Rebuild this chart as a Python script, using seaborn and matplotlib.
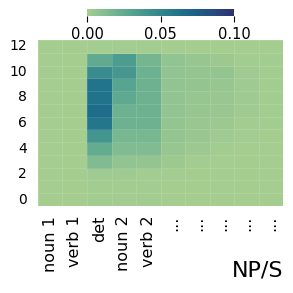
import numpy as np
import pandas as pd
import matplotlib
matplotlib.use("Agg")
import matplotlib.pyplot as plt
import seaborn as sns

# column labels and row layers (0 = bottom)
cols = ["noun 1", "verb 1", "det", "noun 2", "verb 2", "...", "...", "...", "...", "..."]
layers = list(range(13))

# attention values, one list per layer
vals = [
    [0.000, 0.000, 0.001, 0.001, 0.001, 0.000, 0.000, 0.000, 0.000, 0.000],  # 0
    [0.000, 0.000, 0.001, 0.001, 0.001, 0.000, 0.000, 0.000, 0.000, 0.000],  # 1
    [0.000, 0.000, 0.002, 0.002, 0.001, 0.001, 0.000, 0.000, 0.000, 0.000],  # 2
    [0.000, 0.000, 0.013, 0.007, 0.006, 0.003, 0.001, 0.000, 0.000, 0.000],  # 3
    [0.000, 0.000, 0.024, 0.013, 0.013, 0.005, 0.003, 0.001, 0.000, 0.000],  # 4
    [0.000, 0.000, 0.040, 0.016, 0.016, 0.006, 0.004, 0.002, 0.001, 0.000],  # 5
    [0.000, 0.000, 0.060, 0.020, 0.020, 0.006, 0.004, 0.003, 0.001, 0.001],  # 6
    [0.000, 0.000, 0.066, 0.020, 0.020, 0.007, 0.005, 0.004, 0.002, 0.001],  # 7
    [0.000, 0.000, 0.062, 0.026, 0.020, 0.007, 0.005, 0.004, 0.002, 0.001],  # 8
    [0.000, 0.000, 0.061, 0.030, 0.020, 0.007, 0.006, 0.005, 0.002, 0.001],  # 9
    [0.000, 0.000, 0.046, 0.038, 0.020, 0.007, 0.006, 0.006, 0.002, 0.001],  # 10
    [0.000, 0.000, 0.025, 0.035, 0.017, 0.007, 0.005, 0.003, 0.001, 0.001],  # 11
    [0.000, 0.000, 0.001, 0.001, 0.001, 0.000, 0.000, 0.000, 0.000, 0.000],  # 12
]

df = pd.DataFrame(vals, index=layers, columns=range(len(cols)))

fig = plt.figure(figsize=(2.93, 2.93), dpi=100)
ax = fig.add_axes([38 / 293, 1 - 206 / 293, 245 / 293, 166 / 293])
cax = fig.add_axes([87 / 293, 1 - 16 / 293, 147 / 293, 7 / 293])

sns.heatmap(df, ax=ax, cmap="crest", vmin=0, vmax=0.1, cbar_ax=cax,
            cbar_kws={"orientation": "horizontal", "ticks": [0, 0.05, 0.1]},
            xticklabels=cols, yticklabels=2,
            linewidths=0.5, linecolor=(1, 1, 1, 0.12))
ax.invert_yaxis()
ax.tick_params(axis="x", length=0, pad=7)
ax.tick_params(axis="y", length=0, pad=8)
ax.set_xticklabels(cols, rotation=90, fontsize=11.5)
ax.set_yticklabels(ax.get_yticklabels(), rotation=0, fontsize=10)
ax.set_xlabel("")
ax.set_ylabel("")

cax.tick_params(labelsize=10.5, length=4, width=0.8, pad=4)
cax.set_xticklabels(["0.00", "0.05", "0.10"])
ax.collections[0].colorbar.outline.set_visible(False)

fig.text(283 / 293, 1 - 280 / 293, "NP/S", fontsize=16, ha="right", va="bottom")

fig.savefig("out.png", dpi=100)
